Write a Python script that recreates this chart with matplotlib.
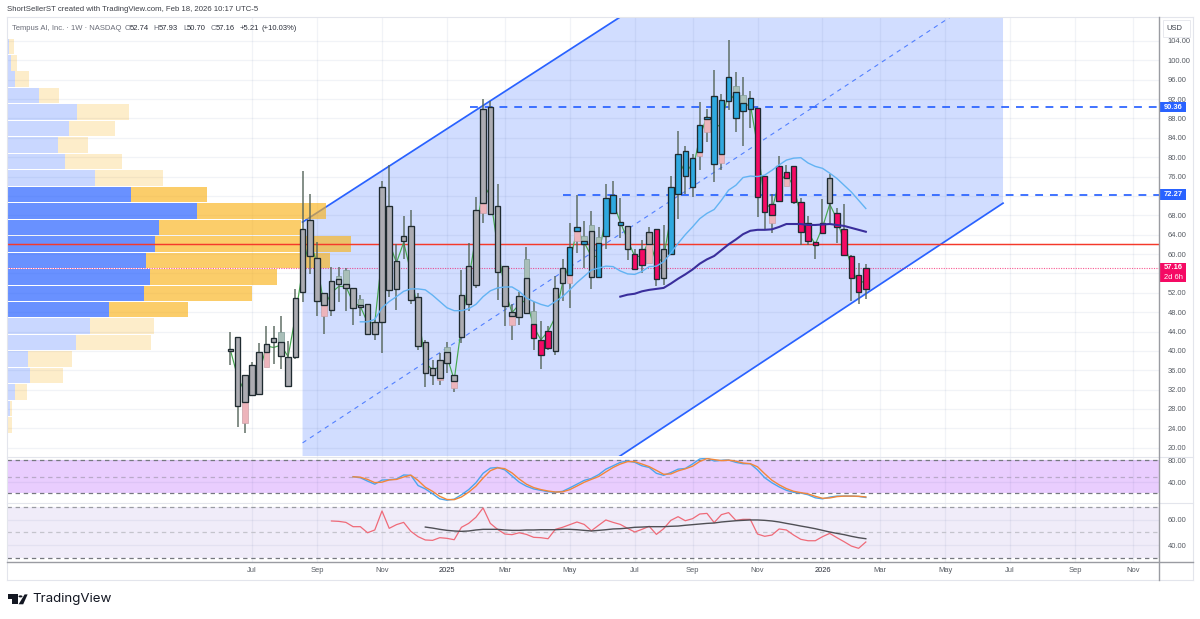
import matplotlib
matplotlib.use("Agg")
import matplotlib.pyplot as plt
from matplotlib.lines import Line2D
from matplotlib.patches import Rectangle, Circle, Polygon
from matplotlib.transforms import blended_transform_factory

W, H = 1200, 619
plt.rcParams['font.family'] = ['Liberation Sans', 'DejaVu Sans']

# ---- data ----
first_week = -3  # week index, 0 = first week of Jul 2024
body_hi = [40.3,42.8,35.0,37.0,39.7,41.5,42.7,41.8,38.7,51.0,
           65.1,67.0,59.1,52.0,54.5,54.8,53.9,53.0,49.4,49.7,
           46.0,73.9,70.0,58.6,63.7,65.7,51.1,41.8,36.4,38.2,
           39.7,35.1,51.6,57.5,69.1,90.0,90.4,70.0,57.6,48.0,
           51.4,55.0,45.6,42.2,44.1,53.0,57.2,61.4,65.6,62.6,
           64.8,62.2,71.5,72.2,66.7,65.7,60.1,61.1,64.6,65.2,
           61.0,73.8,80.7,81.3,79.8,86.6,88.4,92.7,91.9,96.6,
           93.5,91.2,92.2,90.1,76.1,70.3,78.1,76.9,78.1,70.7,
           66.4,62.5,66.4,75.6,68.4,65.1,59.5,55.6,57.16]
body_lo = [40.0,28.6,29.4,30.8,31.0,39.7,41.8,39.0,32.8,38.8,
           52.2,59.5,50.3,49.4,48.5,53.9,53.0,48.9,49.0,43.5,
           43.5,46.0,52.5,52.7,62.6,50.5,41.1,35.5,35.0,34.4,
           37.5,33.7,42.8,49.6,53.6,70.5,68.2,56.3,49.2,47.1,
           46.9,47.8,42.6,39.1,40.5,40.0,54.0,55.7,64.8,62.0,
           55.3,55.3,63.7,68.4,66.0,61.0,57.0,57.7,62.0,54.9,
           55.0,60.1,72.5,76.1,73.8,81.1,87.9,78.6,80.7,91.5,
           88.0,89.5,90.0,71.8,68.6,68.1,70.9,75.6,70.8,64.6,
           62.7,61.8,64.4,70.5,65.5,59.9,55.0,52.1,52.74]
high = [44.0,42.9,35.0,37.8,41.7,45.2,45.1,47.1,42.1,52.8,
        77.1,72.5,62.4,52.0,57.3,57.4,57.2,53.0,51.6,49.7,
        46.4,75.1,78.3,62.0,67.8,69.1,52.0,42.2,38.2,39.5,
        41.8,35.1,56.7,62.2,71.7,92.1,91.5,74.5,57.6,49.6,
        52.1,61.5,50.1,46.1,45.2,55.4,58.9,66.5,72.2,66.8,
        68.9,65.5,74.5,75.0,71.5,65.7,61.0,63.0,65.5,65.2,
        66.0,76.1,85.5,82.3,80.7,91.3,90.0,98.1,93.1,104.3,
        97.6,96.6,93.6,90.1,76.1,72.4,80.2,78.3,78.1,71.6,
        67.9,62.5,71.3,76.5,69.6,70.3,59.9,58.1,57.93]
low = [37.1,24.3,23.1,30.8,31.0,36.6,37.3,36.2,32.8,38.4,
       50.1,55.8,47.1,43.5,47.1,50.0,48.2,45.4,47.1,43.5,
       42.3,39.5,51.2,48.5,58.9,49.6,40.2,32.5,33.0,33.0,
       35.4,31.5,41.7,48.2,53.0,66.5,68.2,50.6,45.1,42.3,
       45.3,47.8,40.1,36.3,40.1,39.2,50.3,48.9,60.3,57.2,
       52.7,55.3,61.1,68.4,63.4,58.7,57.0,56.0,58.1,53.5,
       53.7,60.1,67.2,72.4,71.7,77.4,83.2,74.8,77.4,89.7,
       85.3,82.3,86.0,67.6,65.1,64.4,70.9,74.1,70.3,61.8,
       61.9,58.9,64.4,66.2,62.2,59.9,50.3,49.6,50.70]
pink_weeks = [39,40,41,53,54,56,70,71,72,73,74,75,76,77,78,79,81,82,83,84,85]
blue_weeks = [44,45,46,48,49,50,51,58,59,60,61,62,63,64,65,66,67,68,69]
shade_low_weeks = [-1,2,10,26,28,32,36,44,45,55,62,63,65,72,74]
shade_low = [25.2,36.6,47.3,33.9,32.4,68.4,45.3,54.1,62.7,58.1,80.3,85.3,78.8,66.5,74.1]
shade_high_weeks = [4,12,13,15,27,38,39,46,47,48,67,68]
shade_high = [43.9,55.4,56.6,50.7,40.8,59.0,48.2,63.7,66.0,63.6,94.7,92.8]
thin_line = [40.2,34.7,31.5,31.0,35.4,41.0,40.7,41.2,38.8,47.1,
             56.8,63.0,58.0,49.2,52.0,53.3,53.3,50.0,49.2,45.8,
             45.8,59.6,62.4,58.2,62.4,56.2,47.9,37.5,36.1,36.7,
             38.8,34.0,45.0,54.7,63.7,74.5,72.0,61.5,52.7,47.9,
             49.6,50.6,45.0,42.3,44.0,47.0,54.0,58.2,65.1,62.4,
             59.5,59.5,67.9,70.7,66.6,63.0,59.5,59.5,63.0,58.2,
             59.2,67.9,76.1,79.0,77.0,84.2,88.4,85.9,86.9,93.5,
             91.5,90.4,91.0,82.3,70.7,69.2,74.8,76.5,74.0,67.9,
             64.5,62.0,65.5,70.3,67.2,62.4,57.4,53.7,54.7]
ma_light = [46.0,46.0,46.5,48.9,50.2,51.2,52.3,52.8,52.8,52.6,51.5,50.2,48.9,48.3,48.3,48.7,49.6,51.2,52.4,53.0,
            53.2,53.2,52.3,50.9,50.2,49.6,49.2,50.2,51.2,52.6,54.1,55.4,56.7,57.1,57.5,57.4,56.5,55.9,55.8,56.4,
            57.4,57.5,58.4,60.2,62.2,64.0,65.6,67.3,68.4,69.2,71.1,73.2,74.2,75.8,76.1,76.0,76.3,77.3,78.4,79.4,
            79.8,79.9,78.8,78.1,77.7,76.7,75.6,74.2,72.8,71.1,69.4]
ma_dark = [51.2,51.6,51.8,52.3,52.6,52.8,53.0,53.9,54.9,55.8,56.8,58.0,58.9,59.6,60.8,62.0,63.0,64.1,64.8,65.0,
           65.0,65.1,65.6,66.2,66.2,66.2,66.0,66.0,66.1,66.2,66.0,65.8,65.4,65.0,64.6]
channel_weeks = [7, 104]
channel_upper = [66.6, 160.0]
channel_mid = [21.0, 116.1]
channel_lower = [-25.0, 70.5]
level_high = 90.36
level_mid = 72.27
level_red = 62.07
last_close = 57.16
vp_price = [102.9,99.5,96.1,92.7,89.3,85.9,82.5,79.1,75.7,72.3,68.9,65.5,62.1,58.7,55.3,51.9,48.5,45.1,41.7,38.3,34.9,31.5,28.1,24.7]
vp_up = [2.3,4.3,8.0,31.7,70,62,50.7,58,88.3,123.7,190.3,152.3,148,139,142.7,137,102,83,69,21,23,7.7,3,1.2]
vp_down = [4.7,6,14.3,20.3,52.3,46,30.6,57,67.4,76,128.7,142,195.7,184,127,108.3,78.7,64,74.7,44,33.3,12.6,2.3,4]
vp_value_area = [9,10,11,12,13,14,15,16]
stoch_k = [50.2,48.3,42.1,36.5,44.0,44.6,45.9,53.3,52.7,34.0,27.8,19.0,9.7,7.2,9.1,17.2,26.5,39.0,56.4,65.8,67.0,62.7,
           51.5,40.2,32.8,27.8,25.3,22.8,21.6,23.4,29.7,36.5,43.4,47.1,53.9,63.9,70.1,76.4,78.9,76.4,70.1,67.0,56.4,
           52.7,57.7,63.9,65.2,73.3,82.6,83.9,78.9,80.1,80.7,76.4,73.9,73.9,62.7,48.3,39.0,31.5,25.3,21.6,20.3,17.2,
           11.6,9.7,12.8,14.7,14.7,14.7,14.1,12.2]
stoch_d = [50,49.2,45.2,39.3,40.2,44.3,45.2,49.6,53,43.3,30.9,23.4,14.3,8.5,8.2,13.1,21.9,32.8,47.7,61.1,66.4,64.9,
           57.1,45.9,36.5,30.3,26.6,24,22.2,22.5,26.5,33.1,40,45.3,50.5,58.9,67,73.3,77.7,77.7,73.3,68.6,61.7,
           54.6,55.2,60.8,64.6,69.3,78,83.3,81.4,79.5,80.4,78.6,75.2,73.9,68.3,55.5,43.7,35.3,28.4,23.5,21,18.8,
           14.4,10.7,11.3,13.8,14.7,14.7,14.4,13.2]
rsi = [59.0,58.7,57.9,54.5,54.5,49.7,51.9,66.9,53.2,56.1,57.9,50.8,46.6,44.0,43.7,45.8,45.3,44.2,54.0,57.1,61.9,69.3,
       57.1,52.4,48.7,48.2,49.7,48.4,46.1,45.8,45.0,52.4,54.0,56.1,58.2,56.3,51.3,55.6,59.8,57.9,56.3,53.2,50.3,52.4,
       54.8,48.4,52.9,59.5,62.4,59.2,60.8,64.5,65.0,57.7,64.0,65.6,59.5,60.3,60.3,48.7,46.9,47.9,52.7,51.9,47.9,44.5,
       43.4,43.4,46.6,49.2,45.8,42.6,39.2,37.4,42.4]
rsi_ma = [54.2,53.4,52.4,51.6,51.1,50.8,51.1,51.9,52.4,52.4,52.4,51.9,51.6,51.6,51.9,51.9,52.1,52.1,52.1,52.4,52.4,52.1,
          51.6,51.1,51.6,52.1,52.7,52.9,53.4,54.0,54.2,54.5,54.5,54.5,54.8,55.0,55.6,56.1,56.6,57.1,57.4,58.2,58.7,59.2,
          59.5,59.8,59.8,59.5,59.0,58.2,57.1,56.1,55.0,54.0,52.9,51.6,50.3,49.2,48.2,46.9,45.8,45.0]
price_ticks = [20,24,28,32,36,40,44,48,52,56,60,64,68,72,76,80,84,88,92,96,100,104]
covered_ticks = [56, 72]
month_weeks = [0,9,18,27,35,44,53,61,70,79,87,96,105,114,122]
month_labels = ['Jul','Sep','Nov','2025','Mar','May','Jul','Sep','Nov','2026','Mar','May','Jul','Sep','Nov']

# ---- layout ----
fig = plt.figure(figsize=(W/100, H/100), dpi=100, facecolor='white')
def pane(x0, y0, x1, y1):
    return fig.add_axes([x0/W, 1-y1/H, (x1-x0)/W, (y1-y0)/H])
ax = pane(7, 17, 1159, 456)
ax_s = pane(7, 456, 1159, 503)
ax_r = pane(7, 503, 1159, 561.5)
xlim = (-33.93, 125.6)
TXT = '#555a62'
FS = 5.4
for a in (ax, ax_s, ax_r):
    a.set_xlim(*xlim)
    a.set_facecolor('none')
    for s in a.spines.values():
        s.set_visible(False)
    a.yaxis.tick_right()
    a.tick_params(axis='both', length=0, labelsize=FS, labelcolor=TXT)
    a.tick_params(axis='y', pad=6)
    a.set_xticks(month_weeks)
    a.grid(True, color='#1e3c78', alpha=0.06, lw=0.9)
ax.set_ylim(18.29, 108.95)
ax_s.set_ylim(2.1, 88.0)
ax_r.set_ylim(27.0, 73.2)
ax.set_yticks(price_ticks)
ax.set_yticklabels(['' if v in covered_ticks else f'{v:.2f}' for v in price_ticks])
ax_s.set_yticks([40, 80]); ax_s.set_yticklabels(['40.00', '80.00'])
ax_r.set_yticks([40, 60]); ax_r.set_yticklabels(['40.00', '60.00'])
ax.tick_params(axis='x', labelbottom=False)
ax_s.tick_params(axis='x', labelbottom=False)
ax_r.set_xticklabels(month_labels)
ax_r.tick_params(axis='x', pad=4)
for lab, l in zip(ax_r.get_xticklabels(), month_labels):
    if l.isdigit():
        lab.set_color('#2a2e39')

# channel
ax.fill_between(channel_weeks, channel_lower, channel_upper, color='#2962FF', alpha=0.21, lw=0, zorder=1)
ax.plot(channel_weeks, channel_upper, color='#2962FF', lw=1.25, zorder=3)
ax.plot(channel_weeks, channel_lower, color='#2962FF', lw=1.25, zorder=3)
ax.plot(channel_weeks, channel_mid, color='#2962FF', lw=0.8, ls=(0, (4, 4)), alpha=0.75, zorder=3)

# volume profile on its own horizontal scale
ax_v = ax.twiny()
ax_v.set_xlim(0, 1152)
ax_v.set_axis_off()
for i, p in enumerate(vp_price):
    va = i in vp_value_area
    ax_v.barh(p, vp_up[i], height=3.2, left=0, color='#2962FF', alpha=0.7 if va else 0.25, lw=0, zorder=2)
    ax_v.barh(p, vp_down[i], height=3.2, left=vp_up[i], color='#F9B21A', alpha=0.65 if va else 0.23, lw=0, zorder=2)

# horizontal levels (on an axes above the profile)
t = ax.twiny()
t.set_xlim(*xlim); t.set_axis_off()
t.plot([30.2, xlim[1]], [level_high]*2, color='#2962FF', lw=1.25, ls=(0, (4.5, 4)), zorder=3)
t.plot([43, xlim[1]], [level_mid]*2, color='#2962FF', lw=1.25, ls=(0, (4.5, 4)), zorder=3)
t.axhline(level_red, color='#F5392B', lw=1.05, zorder=3)
t.axhline(last_close, color='#F50057', lw=0.8, ls=(0, (1, 1.2)), alpha=0.65, zorder=3)

# candles
weeks = [first_week+i for i in range(len(body_hi))]
hi_at = dict(zip(weeks, body_hi)); lo_at = dict(zip(weeks, body_lo))
t.plot(weeks, thin_line, color='#45A84E', lw=0.85, zorder=4)
t.vlines(weeks, low, high, color='#55655a', lw=1.2, alpha=0.85, zorder=4.2)
BW = 0.76
for w, v in zip(shade_low_weeks, shade_low):
    t.bar(w, lo_at[w]-v, bottom=v, width=BW, color='#EDB4BB', edgecolor='#C9A0A8', lw=0.5, zorder=4.4)
for w, v in zip(shade_high_weeks, shade_high):
    t.bar(w, v-hi_at[w], bottom=hi_at[w], width=BW, color='#A9BFB8', edgecolor='#7F9A95', lw=0.5, zorder=4.4)
for w, a, b in zip(weeks, body_lo, body_hi):
    c = '#F50A64' if w in pink_weeks else ('#2FA9E0' if w in blue_weeks else '#ACACB2')
    t.bar(w, b-a, bottom=a, width=BW, color=c, edgecolor='#1f2b30', lw=0.95, zorder=5)
t.plot(weeks[-len(ma_light):], ma_light, color='#62B3F3', lw=1.0, zorder=6)
t.plot(weeks[-len(ma_dark):], ma_dark, color='#3A2E9C', lw=1.5, zorder=6)

# stochastic pane
ax_s.axhspan(20, 80, color='#E9CDFE', lw=0, zorder=0.5)
for v, c in [(80, '#75787f'), (50, '#b9a9c9'), (20, '#75787f')]:
    ax_s.axhline(v, color=c, lw=0.9, ls=(0, (3.5, 3)), zorder=2)
ax_s.plot(weeks[-len(stoch_k):], stoch_k, color='#4BA6EE', lw=1.0, zorder=3)
ax_s.plot(weeks[-len(stoch_d):], stoch_d, color='#F2873A', lw=1.0, zorder=3)

# RSI pane
ax_r.axhspan(30, 70, color='#F0ECF9', lw=0, zorder=0.5)
for v, c in [(70, '#9a9ca3'), (50, '#c4c4cc'), (30, '#75787f')]:
    ax_r.axhline(v, color=c, lw=0.9, ls=(0, (3.5, 3)), zorder=2)
ax_r.plot(weeks[-len(rsi):], rsi, color='#EF6A78', lw=0.9, zorder=3)
ax_r.plot(weeks[-len(rsi_ma):], rsi_ma, color='#4f4f55', lw=1.0, zorder=3)

# frame and separators (figure pixels)
def fline(x0, y0, x1, y1, c, lw):
    fig.add_artist(Line2D([x0/W, x1/W], [1-y0/H, 1-y1/H], color=c, lw=lw, zorder=20))
FR = '#E3E5EC'
fline(7, 17, 1193, 17, FR, 0.8)
fline(7, 580, 1193, 580, FR, 0.8)
fline(7, 17, 7, 580, FR, 0.8)
fline(1193, 17, 1193, 580, FR, 0.8)
fline(7, 456.5, 1193, 456.5, FR, 0.8)
fline(7, 503, 1193, 503, FR, 0.8)
fline(7, 561.5, 1193, 561.5, '#9a9ca2', 1.0)
fline(1159.3, 17, 1159.3, 580, '#9a9ca2', 1.0)

# right-axis tags: figure boxes in pixels, placed on the price scale
tr = blended_transform_factory(fig.transFigure, t.transData)
PX = (108.95-18.29)/439
def box(center, height_px, col):
    t.add_patch(Rectangle((1160/W, center-height_px*PX/2), 26/W, height_px*PX, transform=tr,
                          fc=col, ec='none', clip_on=False, zorder=30))
def tagtext(price, s, bold=True):
    t.text(1173/W, price, s, transform=tr, color='white', fontsize=FS,
           fontweight='bold' if bold else 'normal', ha='center', va='center', zorder=31, clip_on=False)
box(level_high, 10.5, '#2962FF'); tagtext(level_high, f'{level_high:.2f}')
box(level_mid, 10.5, '#2962FF'); tagtext(level_mid, f'{level_mid:.2f}')
box(56.18, 19.5, '#F50A64'); tagtext(last_close, f'{last_close:.2f}'); tagtext(55.2, '2d 6h', False)
fig.add_artist(Rectangle((1163/W, 1-37/H), 27/W, 17/H, transform=fig.transFigure, fc='white', ec='#E8E9EE', lw=0.7, zorder=25))
fig.text(1174.5/W, 1-28.5/H, 'USD', color='#3a3e48', fontsize=FS, ha='center', va='center', zorder=26)

# header
def hdr(x, y, s, c, fs=FS+0.1):
    fig.text(x/W, 1-y/H, s, color=c, fontsize=fs, ha='left', va='center', zorder=26)
hdr(7, 9.5, 'ShortSellerST created with TradingView.com, Feb 18, 2026 10:17 UTC-5', '#3c3f47', 5.58)
hdr(12, 28, 'Tempus AI, Inc. · 1W · NASDAQ', '#6a6d78')
for x, s, c in [(125, 'O', '#6a6d78'), (130, '52.74', '#2a2e39'), (153.7, 'H', '#6a6d78'), (158.8, '57.93', '#2a2e39'),
                (183, 'L', '#6a6d78'), (187, '50.70', '#2a2e39'), (211, 'C', '#6a6d78'), (216, '57.16', '#2a2e39'),
                (240, '+5.21', '#2a2e39'), (262, '(+10.03%)', '#2a2e39')]:
    hdr(x, 28, s, c)

# logo
fig.text(32.5/W, 1-599/H, 'TradingView', color='#131722', fontsize=9.6, family=['Inter', 'DejaVu Sans'],
         fontweight='normal', ha='left', va='center')
def P(pts):
    fig.add_artist(Polygon([(x/W, 1-y/H) for x, y in pts], closed=True, transform=fig.transFigure, fc='#131722', ec='none'))
P([(7.7, 594.4), (17.6, 594.4), (17.6, 604.3), (12.2, 604.3), (12.2, 598.6), (7.7, 598.6)])
P([(24.6, 594.4), (27.6, 594.4), (23.2, 604.3), (18.6, 604.3)])
fig.add_artist(Circle((20.5/W, 1-596.4/H), 2.0/W, transform=fig.transFigure, fc='#131722', ec='none'))

fig.savefig('out.png', dpi=100)
